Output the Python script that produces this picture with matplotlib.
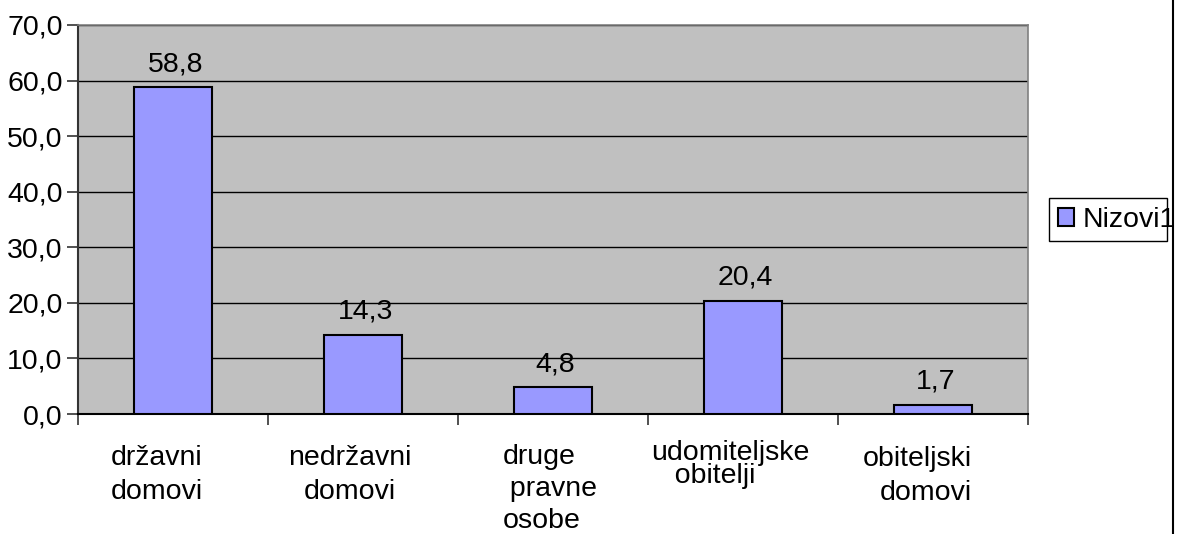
import numpy as np
import matplotlib.pyplot as plt
from matplotlib.transforms import offset_copy
from matplotlib.patches import Rectangle

plt.rcParams['font.family'] = ['Liberation Sans', 'DejaVu Sans']

categories = ['državni\ndomovi', 'nedržavni\ndomovi', 'druge\n pravne\nosobe',
              'udomiteljske\n   obitelji', 'obiteljski\ndomovi']
values = [58.8, 14.3, 4.8, 20.4, 1.7]
series_name = 'Nizovi1'
yticks = [0, 10, 20, 30, 40, 50, 60, 70]

FS = 20.5
W, H = 1178, 534

fig = plt.figure(figsize=(W / 100, H / 100), dpi=100)
ax = fig.add_axes([78 / W, 1 - 414 / H, 950 / W, 389 / H])
ax.set_facecolor('#C0C0C0')

x = np.arange(len(values))
ax.bar(x, values, width=0.41, color='#9999FF', edgecolor='black',
       linewidth=1.5, label=series_name, zorder=3)

for xi, v in zip(x, values):
    tr = offset_copy(ax.transData, fig=fig, x=2.5, y=16, units='dots')
    ax.text(xi, v, f'{v:.1f}'.replace('.', ','), ha='center', va='baseline',
            fontsize=FS, transform=tr)

ax.set_xlim(-0.5, len(values) - 0.5)
ax.set_ylim(0, 70)
ax.set_yticks(yticks)
ax.set_yticklabels([f'{t:.1f}'.replace('.', ',') for t in yticks], fontsize=FS)
ax.yaxis.grid(True, color='black', linewidth=1, zorder=0)
ax.set_axisbelow(True)

# category labels (hand-offset like the original wrapped text)
ax.set_xticks([])
ax.set_xticks(np.arange(len(values) + 1) - 0.5, minor=True)
ax.tick_params(axis='x', which='minor', length=8, width=1.2, color='#333333')
ax.tick_params(axis='y', length=8, width=1.2, color='#333333', pad=3)

dx = [-16, -13, -3, -13, -16]
align = ['center', 'center', 'left', 'left', 'right']
spacing = [1.4, 1.4, 1.3, 0.85, 1.4]
dy = [-31, -31, -30, -26, -32]
for xi, lab, ox, al, ls, oy in zip(x, categories, dx, align, spacing, dy):
    tr = offset_copy(ax.get_xaxis_transform(), fig=fig, x=ox, y=oy, units='dots')
    ax.text(xi, 0, lab, ha='center', va='top', multialignment=al,
            linespacing=ls, fontsize=FS, transform=tr)

for s in ['top', 'right']:
    ax.spines[s].set_color('#808080')
    ax.spines[s].set_linewidth(1.2)
ax.spines['left'].set_color('#333333')
ax.spines['left'].set_linewidth(1.5)
ax.spines['bottom'].set_color('black')
ax.spines['bottom'].set_linewidth(1.5)

# legend: text overflows its frame in the original
leg = ax.legend(loc='center left', bbox_to_anchor=(1058 / W, 1 - 220 / H),
                bbox_transform=fig.transFigure, fontsize=FS, frameon=False,
                handlelength=0.55, handleheight=0.55, handletextpad=0.3,
                borderpad=0, borderaxespad=0)
fig.add_artist(Rectangle((1049 / W, 1 - 241 / H), 118 / W, 43 / H,
                         transform=fig.transFigure, fill=False,
                         edgecolor='black', linewidth=1))

fig.add_artist(plt.Line2D([1173 / W, 1173 / W], [0, 1],
                          transform=fig.transFigure, color='black', linewidth=1.5))

fig.savefig('out.png', dpi=100)
